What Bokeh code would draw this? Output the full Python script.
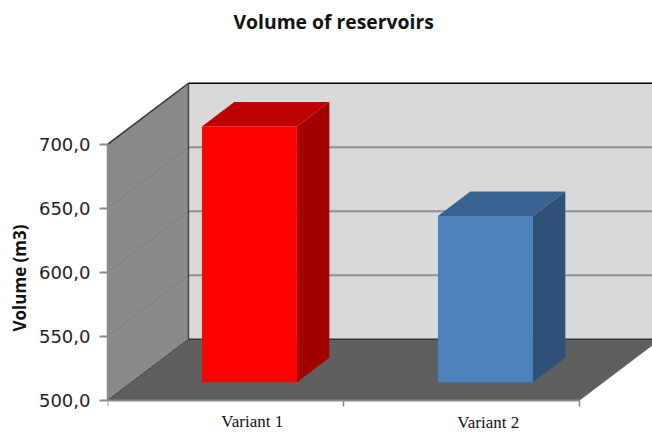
from bokeh.plotting import figure
from bokeh.models import Range1d, FixedTicker, Title
from bokeh.core.properties import value
from bokeh.embed import file_html
from bokeh.resources import INLINE

title_text = "Volume of reservoirs"
y_label = "Volume (m3)"
categories = ["Variant 1", "Variant 2"]
values = [700.0, 630.0]
front_colors = ["#ff0000", "#4f81bd"]
top_colors = ["#bf0000", "#3b6391"]
side_colors = ["#a00000", "#2f5179"]
y_ticks = [500, 550, 600, 650, 700]
y_tick_labels = ["500,0", "550,0", "600,0", "650,0", "700,0"]
x_ticks = [0, 1, 2]

# 3-D projection of the chart box, in data units
Y0, Y1 = y_ticks[0], y_ticks[-1]
DX, DY = 0.343, 47.8
BAR_W, BAR_OFF = 0.4025, 0.4
GAP_F, DEPTH_F = 0.295, 0.40
X_END = 2.309

p = figure(width=652, height=432, output_backend="svg", toolbar_location=None,
           x_range=Range1d(0, X_END), y_range=Range1d(474.9, 782.0),
           min_border_left=107, min_border_right=0, min_border_bottom=0,
           min_border_top=0, background_fill_color="white", outline_line_color=None)
p.title = Title(text=title_text, align="left", offset=126, text_font="Open Sans",
                text_font_size="14.5pt", text_font_style="bold", text_color="#111111",
                standoff=10)
p.add_layout(Title(text=y_label, align="left", offset=101, text_font="Open Sans",
                   text_font_size="17px", text_font_style="bold", text_color="#111111",
                   standoff=9), "left")
p.xgrid.visible = False
p.ygrid.visible = False

# walls and floor
p.patch([0, DX, DX, 0], [Y0, Y0 + DY, Y1 + DY, Y1], fill_color="#8a8a8a", line_color=None)
p.patch([DX, 2 + DX, 2 + DX, DX], [Y0 + DY, Y0 + DY, Y1 + DY, Y1 + DY], fill_color="#d9d9d9", line_color=None)
p.patch([0, 2, 2 + DX, DX], [Y0, Y0, Y0 + DY, Y0 + DY], fill_color="#5f5f5f", line_color=None)

# gridlines
gt = y_ticks[1:-1] + [Y1]
p.multi_line([[DX, 2 + DX] for _ in gt[:-1]], [[t + DY, t + DY] for t in gt[:-1]], line_color="#8f8f8f", line_width=2)
p.multi_line([[0, DX] for _ in gt[:-1]], [[t, t + DY] for t in gt[:-1]], line_color="#7e7e7e", line_width=1)

# box edges
p.line([DX, 2 + DX], [Y1 + DY, Y1 + DY], line_color="#000000", line_width=1.5)
p.line([0, DX], [Y1, Y1 + DY], line_color="#333333", line_width=1.5)
p.line([DX, DX], [Y0 + DY, Y1 + DY], line_color="#444444", line_width=1.5)
p.line([DX, 2 + DX], [Y0 + DY, Y0 + DY], line_color="#333333", line_width=1.5)
p.line([0, DX], [Y0, Y0 + DY], line_color="#444444", line_width=1)

# 3-D bars
for i, v in enumerate(values):
    x0 = i + BAR_OFF
    x1 = x0 + BAR_W
    gy = GAP_F * DY
    y0 = Y0 + gy
    y1 = v + gy
    bx, by = DEPTH_F * DX, DEPTH_F * DY
    p.patch([x0, x1, x1 + bx, x0 + bx], [y1, y1, y1 + by, y1 + by], fill_color=top_colors[i], line_color=None)
    p.patch([x1, x1 + bx, x1 + bx, x1], [y0, y0 + by, y1 + by, y1], fill_color=side_colors[i], line_color=None)
    p.patch([x0, x1, x1, x0], [y0, y0, y1, y1], fill_color=front_colors[i], line_color=None)

# axes
ya = p.yaxis[0]
ya.ticker = FixedTicker(ticks=y_ticks)
ya.bounds = (Y0, Y1)
ya.major_label_overrides = dict(zip(y_ticks, y_tick_labels))
ya.major_label_text_font = "DejaVu Sans"
ya.major_label_text_font_size = "18px"
ya.major_label_text_color = "#222222"
ya.major_label_standoff = 9
ya.major_tick_out = 8
ya.major_tick_in = 0
ya.minor_tick_out = 0
ya.minor_tick_in = 0
ya.major_tick_line_color = "#8a8a8a"
ya.major_tick_line_width = 2
ya.axis_line_color = "#8a8a8a"
ya.axis_line_width = 1.5

xa = p.xaxis[0]
xa.fixed_location = Y0
xa.bounds = (0, 2)
xa.ticker = FixedTicker(ticks=x_ticks)
xa.major_label_overrides = {t: "" for t in x_ticks}
xa.major_tick_out = 6
xa.major_tick_in = 0
xa.minor_tick_out = 0
xa.minor_tick_in = 0
xa.major_tick_line_color = "#8a8a8a"
xa.major_tick_line_width = 1.5
xa.axis_line_color = "#8a8a8a"
xa.axis_line_width = 2

# category labels sit in front of their bars
label_dy = [21, 22]
p.text(x=[i + BAR_OFF + BAR_W / 2 + 0.012 for i in range(len(categories))],
       y=[Y0 for _ in categories], y_offset=label_dy, text=categories,
       text_align="center", text_baseline="middle",
       text_font=value("Liberation Serif"), text_font_size="17px", text_color="#111111")

open("out.html", "w").write(file_html(p, INLINE))
